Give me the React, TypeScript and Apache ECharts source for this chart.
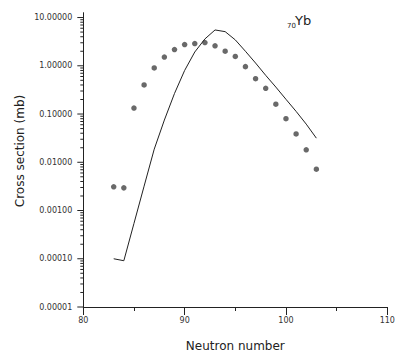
import React, { useEffect, useRef } from "react";
import * as echarts from "echarts";

const neutronNumbers = [83, 84, 85, 86, 87, 88, 89, 90, 91, 92, 93, 94, 95, 96, 97, 98, 99, 100, 101, 102, 103];
const measuredValues = [0.0031, 0.00295, 0.133, 0.4, 0.9, 1.52, 2.17, 2.75, 2.89, 3.03, 2.59, 2.01, 1.56, 0.96, 0.54, 0.342, 0.16, 0.08, 0.0387, 0.0181, 0.0072];
const calculatedValues = [0.0001, 0.000091, 0.00054, 0.0032, 0.0187, 0.075, 0.267, 0.8, 1.93, 3.6, 5.53, 5.1, 3.44, 2.0, 1.14, 0.634, 0.362, 0.202, 0.1135, 0.0618, 0.0316];
const yDecades = [0.00001, 0.0001, 0.001, 0.01, 0.1, 1, 10];
const xTickLabels = [80, 90, 100, 110];

const FONT = "DejaVu Sans";

export default function App() {
  const ref = useRef<HTMLDivElement>(null);
  useEffect(() => {
    document.body.style.margin = "0";
    const chart = echarts.init(ref.current!, null, { renderer: "svg" });
    const yTicks: number[][] = [];
    for (let i = 0; i < yDecades.length; i++) {
      yTicks.push([80, yDecades[i], 1]);
      if (i < yDecades.length - 1) {
        for (let m = 2; m <= 9; m++) yTicks.push([80, yDecades[i] * m, 0]);
      }
    }
    chart.setOption({
      animation: false,
      grid: { left: 83.3, right: 14.7, top: 12.7, bottom: 48 },
      xAxis: {
        type: "value",
        min: 80,
        max: 110,
        interval: 10,
        name: "Neutron number",
        nameLocation: "middle",
        nameGap: 33,
        nameTextStyle: { fontFamily: FONT, fontSize: 12, color: "#222" },
        axisLine: { show: true, lineStyle: { color: "#222", width: 1 } },
        axisTick: { show: true, inside: false, length: 8, lineStyle: { color: "#222", width: 1 } },
        minorTick: { show: true, splitNumber: 2, length: 4, lineStyle: { color: "#222", width: 1 } },
        splitLine: { show: false },
        axisLabel: {
          fontFamily: FONT,
          fontSize: 8,
          color: "#333",
          margin: 9,
          showMinLabel: true,
          showMaxLabel: true,
          hideOverlap: false,
          formatter: (v: number) => (xTickLabels.includes(Math.round(v)) ? String(Math.round(v)) : ""),
        },
      },
      yAxis: {
        type: "log",
        logBase: 10,
        min: 0.00001,
        max: 12.6,
        axisLine: { show: true, lineStyle: { color: "#222", width: 1 } },
        axisTick: { show: false },
        splitLine: { show: false },
        axisLabel: {
          fontFamily: FONT,
          fontSize: 8,
          color: "#333",
          margin: 11,
          formatter: (v: number) => {
            const lg = Math.log10(v);
            if (Math.abs(lg - Math.round(lg)) > 1e-6 || v > 11) return "";
            return Math.pow(10, Math.round(lg)).toFixed(5);
          },
        },
      },
      series: [
        {
          type: "custom",
          coordinateSystem: "cartesian2d",
          silent: true,
          clip: false,
          data: yTicks,
          encode: { x: 0, y: 1 },
          renderItem: (params: any, api: any) => {
            const p = api.coord([api.value(0), api.value(1)]);
            const len = api.value(2) === 1 ? 6 : 3;
            return {
              type: "line",
              shape: { x1: p[0] - len, y1: p[1], x2: p[0], y2: p[1] },
              style: { stroke: "#222", lineWidth: 1 },
            };
          },
        },
        {
          type: "line",
          data: neutronNumbers.map((n, i) => [n, calculatedValues[i]]),
          showSymbol: false,
          symbol: "none",
          lineStyle: { color: "#222", width: 1 },
        },
        {
          type: "scatter",
          data: neutronNumbers.map((n, i) => [n, measuredValues[i]]),
          symbol: "circle",
          symbolSize: 5.5,
          itemStyle: { color: "#444" },
        },
      ],
      graphic: [
        {
          type: "text",
          x: 20,
          y: 151,
          rotation: Math.PI / 2,
          style: {
            text: "Cross section (mb)",
            fontFamily: FONT,
            fontSize: 12,
            fill: "#222",
            align: "center",
            verticalAlign: "middle",
          },
        },
        {
          type: "text",
          x: 295,
          y: 20.5,
          style: { text: "Yb", fontFamily: FONT, fontSize: 13, fill: "#222", align: "left", verticalAlign: "middle" },
        },
        {
          type: "text",
          x: 287,
          y: 26,
          style: { text: "70", fontFamily: FONT, fontSize: 7, fill: "#222", align: "left", verticalAlign: "middle" },
        },
      ],
    });
    return () => chart.dispose();
  }, []);
  return <div ref={ref} style={{ width: 402, height: 357, background: "#fff" }} />;
}
